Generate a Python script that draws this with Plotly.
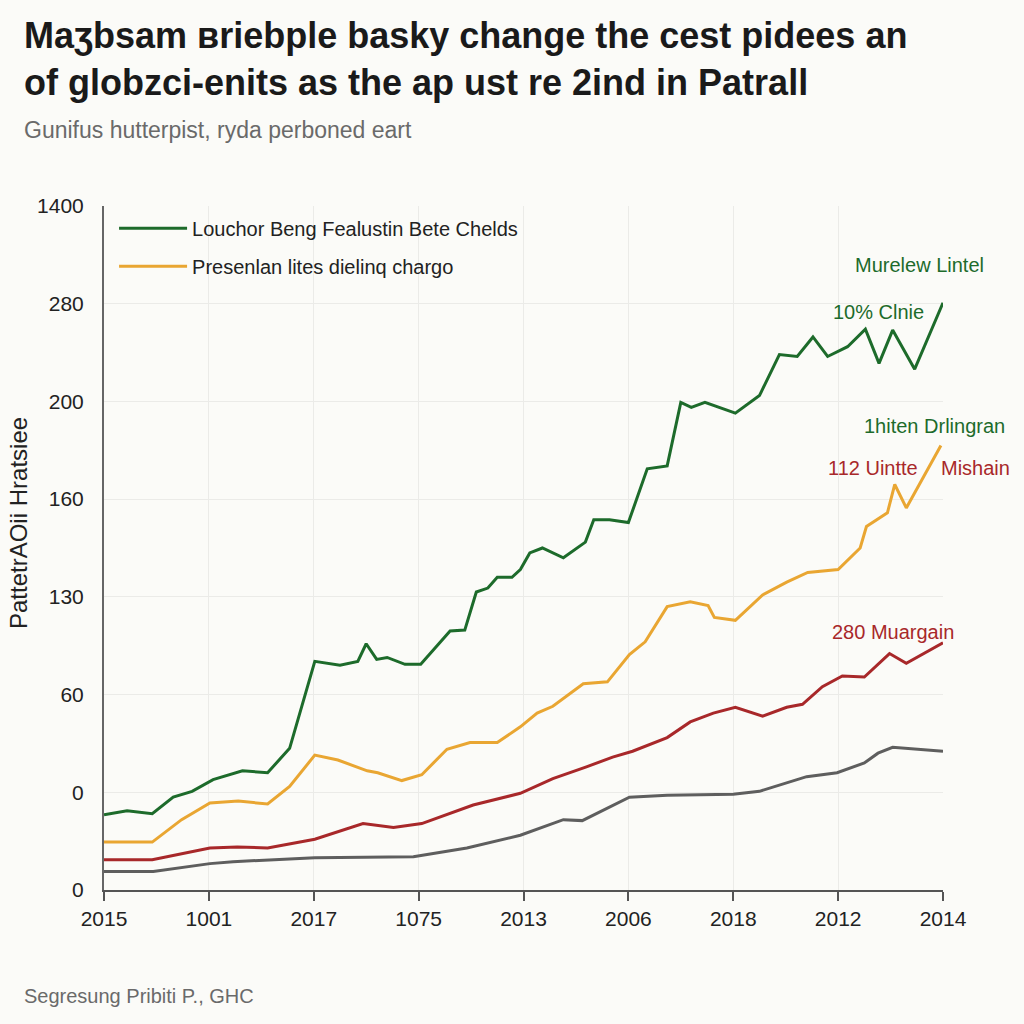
import plotly.graph_objects as go

# ---- data (x in axis-slot units, y in tick-slot units) ----
x_labels = ["2015", "1001", "2017", "1075", "2013", "2006", "2018", "2012", "2014"]
y_labels = ["0", "0", "60", "130", "160", "200", "280", "1400"]

green_x = [0.00, 0.22, 0.46, 0.66, 0.84, 1.04, 1.32, 1.56, 1.77, 2.01, 2.25, 2.42, 2.50, 2.60, 2.70,
           2.87, 3.02, 3.30, 3.44, 3.55, 3.66, 3.75, 3.89, 3.97, 4.06, 4.18, 4.38, 4.59, 4.67, 4.82,
           5.00, 5.18, 5.37, 5.50, 5.60, 5.73, 6.02, 6.25, 6.44, 6.61, 6.76, 6.90, 7.09, 7.26, 7.39,
           7.52, 7.73, 8.00]
green_y = [0.77, 0.81, 0.78, 0.95, 1.01, 1.13, 1.22, 1.20, 1.45, 2.34, 2.30, 2.34, 2.52, 2.36, 2.38,
           2.31, 2.31, 2.65, 2.66, 3.05, 3.09, 3.20, 3.20, 3.28, 3.45, 3.50, 3.40, 3.56, 3.79, 3.79,
           3.76, 4.31, 4.34, 4.99, 4.94, 4.99, 4.88, 5.06, 5.48, 5.46, 5.66, 5.46, 5.56, 5.74, 5.39,
           5.73, 5.33, 6.01]

orange_x = [0.00, 0.46, 0.74, 1.01, 1.28, 1.56, 1.77, 2.01, 2.23, 2.51, 2.61, 2.84, 3.03, 3.27, 3.49,
            3.75, 3.97, 4.13, 4.28, 4.57, 4.80, 5.01, 5.16, 5.37, 5.59, 5.76, 5.82, 6.02, 6.28, 6.51,
            6.71, 7.00, 7.21, 7.27, 7.47, 7.54, 7.65, 7.98]
orange_y = [0.49, 0.49, 0.72, 0.89, 0.91, 0.88, 1.06, 1.38, 1.33, 1.22, 1.20, 1.12, 1.18, 1.44, 1.51,
            1.51, 1.67, 1.81, 1.88, 2.11, 2.13, 2.41, 2.54, 2.90, 2.95, 2.91, 2.79, 2.76, 3.02, 3.15,
            3.25, 3.28, 3.50, 3.72, 3.86, 4.15, 3.91, 4.55]

red_x = [0.00, 0.46, 1.01, 1.27, 1.56, 2.01, 2.47, 2.76, 3.03, 3.27, 3.52, 3.97, 4.28, 4.60, 4.85,
         5.04, 5.37, 5.59, 5.81, 6.02, 6.28, 6.51, 6.66, 6.85, 7.04, 7.25, 7.49, 7.65, 8.00]
red_y = [0.31, 0.31, 0.43, 0.44, 0.43, 0.52, 0.68, 0.64, 0.68, 0.77, 0.87, 0.99, 1.14, 1.26, 1.36,
         1.42, 1.56, 1.72, 1.81, 1.87, 1.78, 1.87, 1.90, 2.08, 2.19, 2.18, 2.42, 2.32, 2.53]

gray_x = [0.00, 0.47, 1.01, 1.23, 2.01, 2.95, 3.46, 3.97, 4.38, 4.56, 5.01, 5.37, 6.00, 6.25, 6.70,
          6.99, 7.25, 7.38, 7.52, 8.00]
gray_y = [0.19, 0.19, 0.27, 0.29, 0.33, 0.34, 0.43, 0.56, 0.72, 0.71, 0.95, 0.97, 0.98, 1.01, 1.16,
          1.20, 1.30, 1.40, 1.46, 1.42]

legend_names = ["Louchor Beng Fealustin Bete Chelds", "Presenlan lites dielinq chargo"]

GREEN = "#1d6b2b"
ORANGE = "#e9a632"
RED = "#a8282a"
GRAY = "#5e5e5e"
BG = "#fbfbf8"

fig = go.Figure()
fig.add_trace(go.Scatter(x=gray_x, y=gray_y, mode="lines", line=dict(color=GRAY, width=3), showlegend=False))
fig.add_trace(go.Scatter(x=red_x, y=red_y, mode="lines", line=dict(color=RED, width=3), showlegend=False))
fig.add_trace(go.Scatter(x=orange_x, y=orange_y, mode="lines", line=dict(color=ORANGE, width=3),
                         name=legend_names[1], legendgroup="b", legendrank=2))
fig.add_trace(go.Scatter(x=green_x, y=green_y, mode="lines", line=dict(color=GREEN, width=3),
                         name=legend_names[0], legendgroup="a", legendrank=1))

W0, W1 = 104, 943
PW = W1 - W0
H0, H1 = 206, 890
PH = H1 - H0

def px(xp):
    return (xp - W0) / PW

def py(yp):
    return (H1 - yp) / PH

SANS = "Liberation Sans, Arial, sans-serif"

def ann(text, xp, yp, size, color, family=SANS, xanchor="center", **kw):
    return dict(text=text, x=px(xp), y=py(yp), xref="paper", yref="paper", xanchor=xanchor,
                yanchor="middle", font=dict(family=family, size=size, color=color), showarrow=False, **kw)

annotations = [
    ann("<b>Maʒbsam ʙriebple basky change the cest pidees an<br>of globzci-enits as the ap ust re 2ind in Patrall</b>",
        22, 59, 36, "#1a1a1a", xanchor="left", align="left"),
    ann("Gunifus hutterpist, ryda perboned eart", 22, 130, 23, "#6a6a6a", xanchor="left"),
    ann("Segresung Pribiti P., GHC", 22, 996, 20, "#6a6a6a", xanchor="left"),
    ann("PattetrAOii Hratsiee", 18, 523, 24, "#222", textangle=-90),
    ann("Murelew Lintel", 919, 265, 20, GREEN),
    ann("10% Clnie", 878, 312, 20, GREEN),
    ann("1hiten Drlingran", 934, 426, 20, GREEN),
    ann("112 Uintte", 826, 468, 20, RED, xanchor="left"),
    ann("Mishain", 1012, 468, 20, RED, xanchor="right"),
    ann("280 Muargain", 893, 632, 20, RED),
]

fig.update_layout(
    width=1024, height=1024,
    paper_bgcolor=BG, plot_bgcolor=BG,
    margin=dict(l=W0, r=1024 - W1, t=H0, b=1024 - H1),
    font=dict(family=SANS, color="#222"),
    annotations=annotations,
    legend=dict(x=0.012, y=0.996, xanchor="left", yanchor="top", bgcolor="rgba(0,0,0,0)",
                font=dict(size=20, color="#222"), itemwidth=68, traceorder="grouped",
                tracegroupgap=9),
    xaxis=dict(range=[0, 8], tickmode="array", tickvals=list(range(len(x_labels))), ticktext=x_labels,
               showgrid=True, gridcolor="#ebebe8", gridwidth=1, zeroline=False,
               showline=True, linecolor="#555", linewidth=2, ticks="outside", ticklen=9, tickwidth=1.5,
               tickcolor="#555", tickfont=dict(size=21, color="#222"), fixedrange=True),
    yaxis=dict(range=[0, 7], tickmode="array", tickvals=list(range(len(y_labels))), ticktext=y_labels,
               showgrid=True, gridcolor="#ebebe8", gridwidth=1, zeroline=False,
               showline=True, linecolor="#666", linewidth=2, ticks="",
               ticklabelstandoff=14, tickfont=dict(size=21, color="#222"), fixedrange=True),
)

fig.write_html("out.html", config={"displayModeBar": False},
               post_script="document.body.style.margin='0';document.body.style.background='%s';" % BG)
